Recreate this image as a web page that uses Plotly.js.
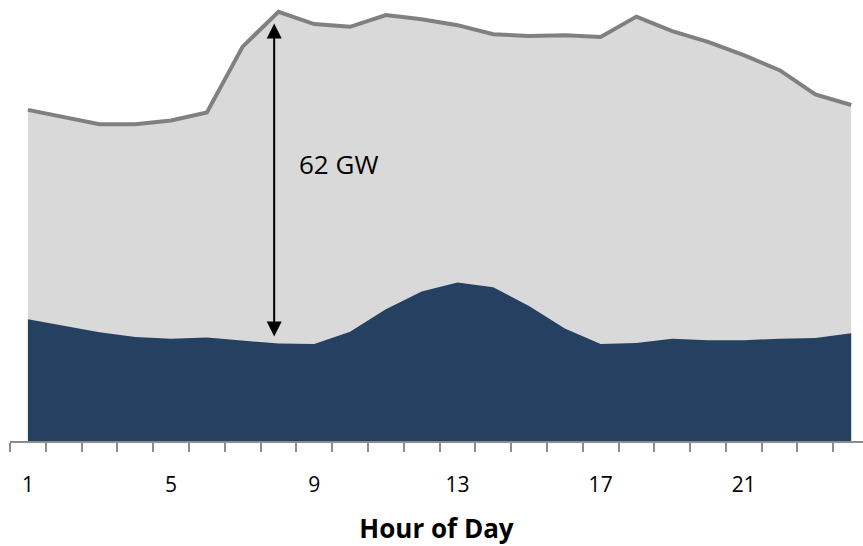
<!DOCTYPE html>
<html>
<head>
<meta charset="utf-8">
<script src="https://cdn.plot.ly/plotly-3.0.1.min.js"></script>
<style>html,body{margin:0;padding:0;background:#fff;}#chart{width:863px;height:546px;}</style>
</head>
<body>
<div id="chart"></div>
<script>
// Hour of day categories
const hours = [1,2,3,4,5,6,7,8,9,10,11,12,13,14,15,16,17,18,19,20,21,22,23,24];
// Total demand (GW) – top grey line
const totalDemand = [61.8,60.4,59.1,59.1,59.8,61.3,73.6,80.1,77.8,77.3,79.5,78.7,77.6,75.9,75.6,75.7,75.4,79.2,76.5,74.5,72.0,69.2,64.7,62.7];
// Lower (navy) component (GW)
const baseComponent = [22.7,21.5,20.3,19.4,19.1,19.3,18.8,18.2,18.1,20.4,24.6,27.9,29.6,28.7,25.2,21.0,18.1,18.3,19.1,18.8,18.8,19.1,19.2,20.1];
// Labelled tick positions
const tickHours = [1,5,9,13,17,21];
const tickText = ['1','5','9','13','17','21'];
// Annotated span
const spanHour = 8;
const spanLabel = '62 GW';

const traces = [
  {
    x: hours, y: totalDemand, type: 'scatter', mode: 'lines',
    fill: 'tozeroy', fillcolor: '#d9d9d9',
    line: {color: '#808080', width: 4},
    hoverinfo: 'skip', showlegend: false
  },
  {
    x: hours, y: baseComponent, type: 'scatter', mode: 'lines',
    fill: 'tozeroy', fillcolor: '#264061',
    line: {color: '#264061', width: 0},
    hoverinfo: 'skip', showlegend: false
  }
];

const idx = hours.indexOf(spanHour);
const layout = {
  width: 863, height: 546,
  margin: {l: 10, r: 0, t: 0, b: 105},
  paper_bgcolor: '#ffffff', plot_bgcolor: '#ffffff',
  showlegend: false,
  font: {family: 'Open Sans, sans-serif', color: '#000'},
  xaxis: {
    range: [0.5, 24.33],
    showgrid: false, zeroline: false,
    showline: true, linecolor: '#8c8c8c', linewidth: 2,
    tickmode: 'array', tickvals: tickHours, ticktext: tickText,
    ticks: 'outside', ticklen: 24, tickcolor: 'rgba(0,0,0,0)',
    tickfont: {size: 21, color: '#000', family: 'Open Sans, sans-serif'},
    minor: {tick0: 0.5, dtick: 1, ticks: 'outside', ticklen: 9, tickcolor: '#8c8c8c', tickwidth: 2, showgrid: false},
    title: {text: '<b>Hour of Day</b>', font: {size: 26, color: '#000', family: 'Open Sans, sans-serif'}, standoff: 25},
    fixedrange: true
  },
  yaxis: {
    range: [0, 82.3],
    visible: false, showgrid: false, zeroline: false, fixedrange: true
  },
  annotations: [
    {
      x: spanHour - 0.12, y: totalDemand[idx] - 2.2,
      ax: spanHour - 0.12, ay: baseComponent[idx] + 1.0,
      xref: 'x', yref: 'y', axref: 'x', ayref: 'y',
      text: '', showarrow: true,
      arrowhead: 2, startarrowhead: 2, arrowside: 'end+start',
      arrowsize: 1.5, startarrowsize: 1.5, arrowwidth: 2, arrowcolor: '#000'
    },
    {
      x: spanHour + 1.68, y: (441 - 164) / 5.36,
      xref: 'x', yref: 'y', showarrow: false,
      text: spanLabel, font: {size: 26, color: '#000', family: 'Open Sans, sans-serif'}
    }
  ]
};

Plotly.newPlot('chart', traces, layout, {displayModeBar: false, staticPlot: true});
</script>
</body>
</html>
